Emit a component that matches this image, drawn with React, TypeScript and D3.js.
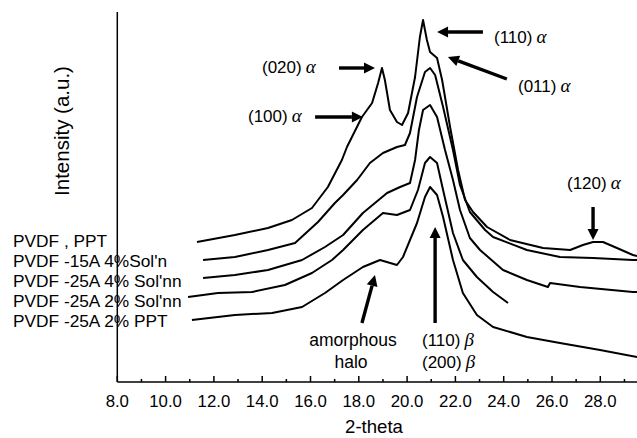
import React from "react";
import * as d3 from "d3";

// ---- data (2-theta in degrees, intensity in a.u.) ----
const THETA_PPT = [11.30,12.87,14.24,15.23,16.06,16.72,17.30,17.51,18.13,18.55,18.80,18.96,19.08,19.29,19.58,19.79,20.04,20.33,20.53,20.66,20.82,20.95,21.24,21.45,21.78,22.11,22.40,22.73,23.31,24.26,25.63,26.75,27.28,27.70,28.11,28.69,29.35,29.52];
const INT_PPT = [140,147,154,162,174,195,222,235,265,279,299,314,302,272,260,257,269,305,345,362,342,330,324,302,255,212,182,170,155,142,134,132,137,140,140,134,127,126];

const THETA_15A_4SOL = [11.55,12.87,14.24,15.36,16.31,17.01,17.35,17.93,18.46,19.00,19.58,19.91,20.12,20.41,20.74,20.95,21.16,21.49,21.90,22.19,22.60,23.23,23.56,24.96,26.33,27.70,29.35,29.52];
const INT_15A_4SOL = [122,125,132,139,160,179,187,202,219,229,235,237,249,285,310,314,307,275,232,197,170,152,145,132,125,124,122,122];

const THETA_25A_4SOL = [11.55,12.87,14.24,15.65,16.60,17.35,18.17,19.17,19.71,20.12,20.33,20.49,20.66,20.95,21.24,21.57,21.90,22.19,22.60,23.02,23.97,24.96,25.83,25.92,27.16,29.35,29.52];
const INT_25A_4SOL = [104,107,112,122,135,147,169,189,195,199,222,252,272,277,265,232,202,172,144,132,112,102,95,99,95,90,90];

const THETA_25A_2SOL = [10.93,12.17,13.58,14.94,16.06,16.89,17.35,18.17,19.00,19.58,20.12,20.45,20.74,20.95,21.24,21.49,21.90,22.31,22.89,23.56,24.18];
const INT_25A_2SOL = [85,89,90,97,109,122,132,152,169,167,172,192,219,225,219,192,149,122,105,90,79];

const THETA_25A_2PPT = [11.09,12.87,14.41,15.65,16.60,17.35,18.17,18.88,19.58,19.83,20.41,20.74,20.95,21.24,21.49,21.90,22.31,22.89,23.56,24.96,26.33,27.99,29.52];
const INT_25A_2PPT = [62,67,69,75,89,102,115,122,117,125,159,185,195,187,165,122,89,67,55,45,39,32,25];

const SERIES_LABELS = ["PVDF , PPT", "PVDF -15A 4%Sol'n", "PVDF -25A 4% Sol'nn", "PVDF -25A 2% Sol'nn", "PVDF -25A 2% PPT"];
const X_TICKS = [8, 10, 12, 14, 16, 18, 20, 22, 24, 26, 28];
const X_MINOR = [9, 11, 13, 15, 17, 19, 21, 23, 25, 27, 29];
const X_TITLE = "2-theta";
const Y_TITLE = "Intensity (a.u.)";

const SERIES: [number[], number[]][] = [
  [THETA_PPT, INT_PPT],
  [THETA_15A_4SOL, INT_15A_4SOL],
  [THETA_25A_4SOL, INT_25A_4SOL],
  [THETA_25A_2SOL, INT_25A_2SOL],
  [THETA_25A_2PPT, INT_25A_2PPT],
];

const SANS = "'Liberation Sans', Arial, Helvetica, sans-serif";
const SERIF = "'Liberation Serif', 'Times New Roman', serif";

export default function App() {
  const W = 637, H = 438;
  const x = d3.scaleLinear().domain([8, 28]).range([117.3, 600.3]);
  const y = d3.scaleLinear().domain([0, 370]).range([382, 12]);
  const line = d3.line<[number, number]>().x(d => x(d[0])).y(d => y(d[1])).curve(d3.curveLinear);

  const axisY = y(0);
  const axisX = x(8);

  const Arrow = ({ x1, y1, x2, y2 }: { x1: number; y1: number; x2: number; y2: number }) => {
    const ang = Math.atan2(y2 - y1, x2 - x1);
    const L = 11, Wd = 5.5;
    const bx = x2 - L * Math.cos(ang), by = y2 - L * Math.sin(ang);
    const px = -Math.sin(ang) * Wd, py = Math.cos(ang) * Wd;
    return (
      <g>
        <line x1={x1} y1={y1} x2={bx} y2={by} stroke="#000" strokeWidth={3.4} />
        <polygon points={`${x2},${y2} ${bx + px},${by + py} ${bx - px},${by - py}`} fill="#000" />
      </g>
    );
  };

  const Lbl = ({ tx, ty, t, g }: { tx: number; ty: number; t: string; g: string }) => (
    <text x={tx} y={ty} fontFamily={SANS} fontSize={17} fill="#000">
      {t}
      <tspan dx={4} fontFamily={SERIF} fontStyle="italic" fontSize={19}>{g}</tspan>
    </text>
  );

  return (
    <svg width={W} height={H} style={{ position: "absolute", left: 0, top: 0, background: "#fff" }}>
      <rect x={0} y={0} width={W} height={H} fill="#fff" />
      {/* series labels */}
      {SERIES_LABELS.map((s, i) => (
        <text key={s} x={13} y={247 + i * 20} fontFamily={SANS} fontSize={17.3} fill="#000">{s}</text>
      ))}
      {/* curves */}
      {SERIES.map(([xs, ys], i) => (
        <path key={i} d={line(xs.map((v, j) => [v, ys[j]] as [number, number])) || ""} fill="none" stroke="#000" strokeWidth={2} strokeLinejoin="round" />
      ))}
      {/* axes */}
      <line x1={axisX} y1={12} x2={axisX} y2={axisY} stroke="#000" strokeWidth={1.5} />
      <line x1={axisX} y1={axisY} x2={W} y2={axisY} stroke="#000" strokeWidth={1.5} />
      {X_TICKS.map(t => (
        <g key={t}>
          <line x1={x(t)} x2={x(t)} y1={axisY} y2={axisY - 6} stroke="#000" strokeWidth={1.5} />
          <text x={x(t)} y={407} textAnchor="middle" fontFamily={SANS} fontSize={16.8} fill="#000">{t.toFixed(1)}</text>
        </g>
      ))}
      {X_MINOR.map(t => (
        <line key={t} x1={x(t)} x2={x(t)} y1={axisY} y2={axisY - 3} stroke="#000" strokeWidth={1.5} />
      ))}
      <text x={374} y={433} textAnchor="middle" fontFamily={SANS} fontSize={18.6} fill="#000">{X_TITLE}</text>
      <text transform="translate(69,131) rotate(-90)" textAnchor="middle" fontFamily={SANS} fontSize={20.5} fill="#000">{Y_TITLE}</text>

      {/* annotations */}
      <Arrow x1={x(23.14)} y1={y(350)} x2={x(21.24)} y2={y(350)} />
      <Lbl tx={494} ty={43} t="(110)" g="α" />
      <Arrow x1={x(17.18)} y1={y(314)} x2={x(18.67)} y2={y(314)} />
      <Lbl tx={262} ty={73} t="(020)" g="α" />
      <Arrow x1={x(16.19)} y1={y(265)} x2={x(18.17)} y2={y(265)} />
      <Lbl tx={248} ty={122} t="(100)" g="α" />
      <Arrow x1={x(24.13)} y1={y(303)} x2={x(21.69)} y2={y(325)} />
      <Lbl tx={518} ty={92} t="(011)" g="α" />
      <Arrow x1={x(27.7)} y1={y(175)} x2={x(27.7)} y2={y(142)} />
      <Lbl tx={567} ty={189} t="(120)" g="α" />
      <Arrow x1={x(21.16)} y1={y(59)} x2={x(21.16)} y2={y(155)} />
      <Lbl tx={422} ty={346} t="(110)" g="β" />
      <Lbl tx={422} ty={368} t="(200)" g="β" />
      <Arrow x1={x(18.13)} y1={y(59)} x2={x(18.67)} y2={y(107)} />
      <text x={353} y={346} textAnchor="middle" fontFamily={SANS} fontSize={17.5} fill="#000">amorphous</text>
      <text x={351} y={368} textAnchor="middle" fontFamily={SANS} fontSize={17.5} fill="#000">halo</text>
    </svg>
  );
}
